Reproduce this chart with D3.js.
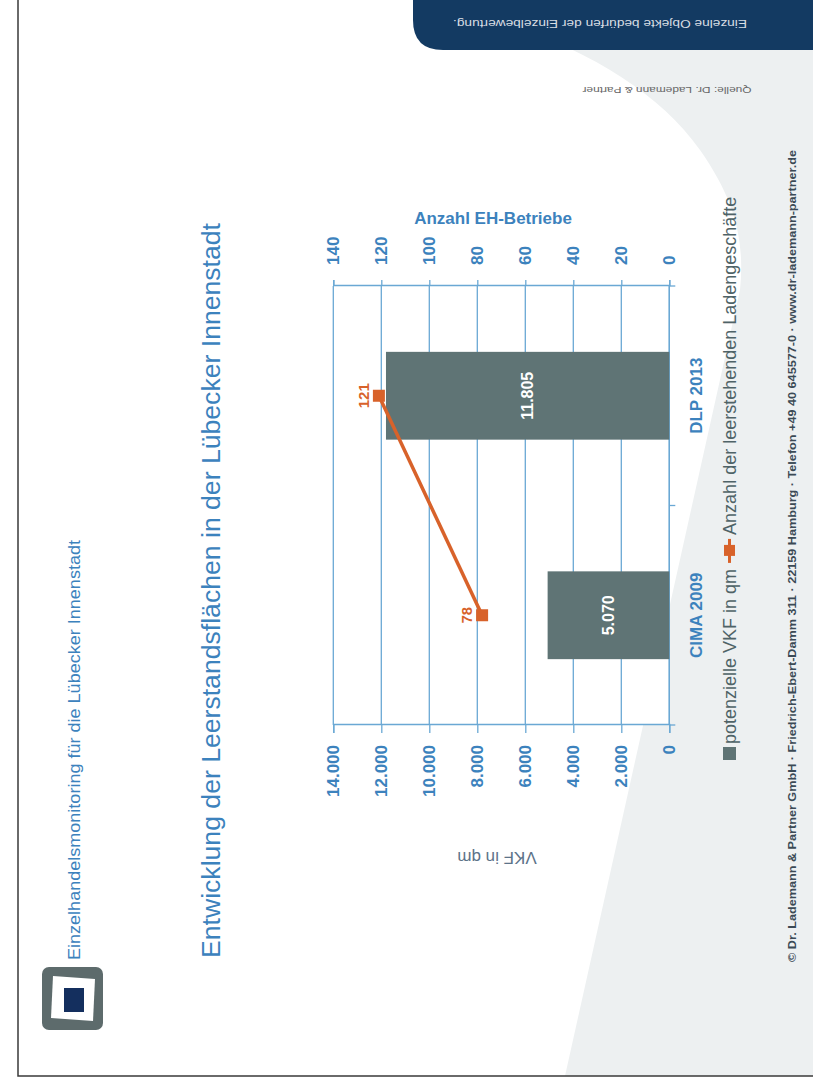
<!DOCTYPE html>
<html><head><meta charset="utf-8">
<script src="https://cdn.jsdelivr.net/npm/d3@7"></script>
<style>html,body{margin:0;padding:0;background:#fff;} svg{display:block;font-family:"Liberation Sans",Arial,sans-serif;}</style>
</head><body><svg id="c" width="813" height="1086"></svg>
<script>
// ---- data ----
const categories = ["CIMA 2009", "DLP 2013"];
const vkfValues = [5070, 11805];
const shopCounts = [78, 121];
const vkfTicks = [0, 2000, 4000, 6000, 8000, 10000, 12000, 14000];
const countTicks = [0, 20, 40, 60, 80, 100, 120, 140];
const seriesNames = ["potenzielle VKF in qm", "Anzahl der leerstehenden Ladengeschäfte"];
const titleText = "Entwicklung der Leerstandsflächen in der Lübecker Innenstadt";
const subtitleText = "Einzelhandelsmonitoring für die Lübecker Innenstadt";
const leftAxisTitle = "VKF in qm";
const rightAxisTitle = "Anzahl EH-Betriebe";
const bannerText = "Einzelne Objekte bedürfen der Einzelbewertung.";
const sourceText = "Quelle: Dr. Lademann & Partner";
const footerText = "© Dr. Lademann & Partner GmbH · Friedrich-Ebert-Damm 311 · 22159 Hamburg · Telefon +49 40 645577-0 · www.dr-lademann-partner.de";

const BLUE = "#3c82bd", GRID = "#6aa8d4", BAR = "#5f7475", ORANGE = "#d8622a";
const W = 813, H = 1086;
const svg = d3.select("#c");
const de = d3.formatLocale({decimal: ",", thousands: ".", grouping: [3], currency: ["", " €"]});
const fmt = de.format(",d");

// background
svg.append("rect").attr("width", W).attr("height", H).attr("fill", "#fff");
svg.append("path")
  .attr("d", "M435,0 C560,35 650,80 700,150 C735,200 745,240 740,290 L565,1076 L813,1076 L813,0 Z")
  .attr("fill", "#edf0f1");

// banner
svg.append("path").attr("d", "M413,0 H813 V50 H443 Q413,50 413,20 Z").attr("fill", "#133a62");
svg.append("text").attr("transform", "translate(600,24) rotate(180)")
  .attr("text-anchor", "middle").attr("dy", "0.35em")
  .attr("font-size", 11).attr("fill", "#d9dee4")
  .attr("textLength", 294).attr("lengthAdjust", "spacingAndGlyphs").text(bannerText);
svg.append("text").attr("transform", "translate(667,90) rotate(180)")
  .attr("text-anchor", "middle").attr("dy", "0.35em")
  .attr("font-size", 9.5).attr("fill", "#666")
  .attr("textLength", 169).attr("lengthAdjust", "spacingAndGlyphs").text(sourceText);

// border
svg.append("path").attr("d", "M18,0 V1076 H813").attr("fill", "none").attr("stroke", "#3a3a3a").attr("stroke-width", 1.5);

// logo
svg.append("rect").attr("x", 42).attr("y", 967).attr("width", 61).attr("height", 63).attr("rx", 7).attr("fill", "#5d6b6c");
svg.append("path").attr("d", "M53,976 L95,979 L93,1021 L51,1018 Z").attr("fill", "#fff");
svg.append("rect").attr("x", 64).attr("y", 988).attr("width", 20).attr("height", 24).attr("fill", "#142f5e");

// rotated slide frame: slide x goes up the page, slide y goes right
const g = svg.append("g").attr("transform", `translate(0,${H}) rotate(-90)`);

g.append("text").attr("x", 128).attr("y", 220).attr("font-size", 26).attr("fill", BLUE)
  .attr("textLength", 735).attr("lengthAdjust", "spacingAndGlyphs").text(titleText);
g.append("text").attr("x", 126).attr("y", 80).attr("font-size", 17).attr("fill", BLUE)
  .attr("textLength", 420).attr("lengthAdjust", "spacingAndGlyphs").text(subtitleText);
g.append("text").attr("x", 124).attr("y", 796).attr("font-size", 10.5).attr("font-weight", "bold").attr("fill", "#3b4a55")
  .attr("textLength", 812).attr("lengthAdjust", "spacingAndGlyphs").text(footerText);

// scales
const x = d3.scaleBand().domain(categories).range([361, 800]).padding(0);
const yL = d3.scaleLinear().domain([0, 14000]).range([669.3, 333.3]);
const yR = d3.scaleLinear().domain([0, 140]).range([669.3, 333.3]);
const barW = x.bandwidth() * 0.4;
const cx = d => x(d) + x.bandwidth() / 2;

g.append("rect").attr("x", 361).attr("y", 333.3).attr("width", 439).attr("height", 336).attr("fill", "#fff");

// gridlines
g.append("g").selectAll("line").data(vkfTicks).join("line")
  .attr("x1", 361).attr("x2", 800).attr("y1", d => yL(d)).attr("y2", d => yL(d))
  .attr("stroke", GRID).attr("stroke-width", 1.3);

function styleAxis(sel, bold) {
  sel.selectAll("path").attr("stroke", GRID).attr("stroke-width", 1.3);
  sel.selectAll("line").attr("stroke", GRID).attr("stroke-width", 1.3);
  sel.selectAll("text").attr("fill", BLUE).attr("font-size", 17).attr("font-weight", bold ? "bold" : "normal")
    .attr("font-family", '"Liberation Sans",Arial,sans-serif');
}
g.append("g").attr("transform", "translate(361,0)")
  .call(d3.axisLeft(yL).tickValues(vkfTicks).tickSize(8).tickPadding(12).tickFormat(fmt))
  .call(s => styleAxis(s, true));
g.append("g").attr("transform", "translate(800,0)")
  .call(d3.axisRight(yR).tickValues(countTicks).tickSize(6).tickPadding(15))
  .call(s => styleAxis(s, true));
const xa = g.append("g").attr("transform", `translate(0,${yL(0)})`)
  .call(d3.axisBottom(x).tickSize(0).tickPadding(21))
  .call(s => styleAxis(s, true));
xa.select(".domain").attr("d", `M${x.range()[0]},0H${x.range()[1]}`);
const bounds = [x.range()[0]].concat(categories.map(c => x(c) + x.bandwidth()));
xa.selectAll("line.bnd").data(bounds).join("line").attr("class", "bnd")
  .attr("x1", d => d).attr("x2", d => d).attr("y1", 0).attr("y2", 6)
  .attr("stroke", GRID).attr("stroke-width", 1.3);

// bars
g.append("g").selectAll("rect").data(categories).join("rect")
  .attr("x", d => cx(d) - barW / 2).attr("width", barW)
  .attr("y", (d, i) => yL(vkfValues[i])).attr("height", (d, i) => yL(0) - yL(vkfValues[i]))
  .attr("fill", BAR);
g.append("g").selectAll("text").data(categories).join("text")
  .attr("x", d => cx(d)).attr("y", (d, i) => (yL(vkfValues[i]) + yL(0)) / 2).attr("dy", "0.35em")
  .attr("text-anchor", "middle").attr("fill", "#fff").attr("font-size", 16).attr("font-weight", "bold")
  .text((d, i) => fmt(vkfValues[i]));

// line series
const pts = categories.map((c, i) => [cx(c), yR(shopCounts[i])]);
g.append("path").attr("d", d3.line()(pts)).attr("fill", "none").attr("stroke", ORANGE).attr("stroke-width", 3.5);
g.append("g").selectAll("rect").data(pts).join("rect")
  .attr("x", d => d[0] - 6).attr("y", d => d[1] - 6).attr("width", 12).attr("height", 12).attr("fill", ORANGE);
g.append("g").selectAll("text").data(pts).join("text")
  .attr("x", d => d[0]).attr("y", d => d[1] - 10).attr("text-anchor", "middle")
  .attr("fill", ORANGE).attr("font-size", 15).attr("font-weight", "bold")
  .text((d, i) => shopCounts[i]);

// legend
const lg = g.append("g").attr("font-size", 18).attr("fill", "#4f6367");
lg.append("rect").attr("x", 326).attr("y", 723).attr("width", 13).attr("height", 13).attr("fill", BAR);
const t1 = lg.append("text").attr("x", 342).attr("y", 736).text(seriesNames[0]);
const l1 = t1.node().getComputedTextLength();
const sx0 = 342 + l1 + 6;
lg.append("line").attr("x1", sx0).attr("x2", sx0 + 24).attr("y1", 729.5).attr("y2", 729.5).attr("stroke", ORANGE).attr("stroke-width", 3);
lg.append("rect").attr("x", sx0 + 7).attr("y", 724).attr("width", 11).attr("height", 11).attr("fill", ORANGE);
lg.append("text").attr("x", sx0 + 28).attr("y", 736).text(seriesNames[1]);

// axis titles (page frame)
svg.append("text").attr("x", 493).attr("y", 224).attr("text-anchor", "middle")
  .attr("font-size", 17).attr("font-weight", "bold").attr("fill", BLUE).text(rightAxisTitle);
svg.append("text").attr("transform", "translate(497,858) rotate(180)").attr("text-anchor", "middle").attr("dy", "0.35em")
  .attr("font-size", 17).attr("fill", "#5d7389").text(leftAxisTitle);
</script></body></html>
